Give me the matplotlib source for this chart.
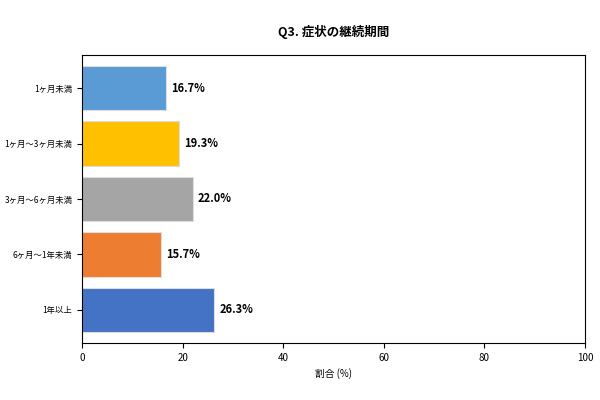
import matplotlib
matplotlib.use("Agg")
import matplotlib.pyplot as plt

plt.rcParams['font.family'] = ['Noto Sans CJK JP', 'DejaVu Sans']

categories = ["1ヶ月未満", "1ヶ月〜3ヶ月未満", "3ヶ月〜6ヶ月未満", "6ヶ月〜1年未満", "1年以上"]
values = [16.7, 19.3, 22.0, 15.7, 26.3]
colors = ["#5B9BD5", "#FFC000", "#A5A5A5", "#ED7D31", "#4472C4"]

fig = plt.figure(figsize=(6, 4), dpi=100)
ax = fig.add_axes([0.137, 0.1425, 0.838, 0.72])
y = list(range(len(categories)))[::-1]
ax.barh(y, values, height=0.8, color=colors, edgecolor="#dddddd", linewidth=0.8)
for yi, v in zip(y, values):
    ax.text(v + 1, yi, f"{v:.1f}%", va="center", ha="left", fontsize=8, fontweight="bold")
ax.set_yticks(y)
ax.set_yticklabels(categories, fontsize=6)
ax.set_xlim(0, 100)
ax.set_ylim(-0.6, 4.6)
ax.tick_params(axis='x', labelsize=7)
ax.set_xlabel("割合 (%)", fontsize=7)
ax.set_title("Q3. 症状の継続期間", fontsize=9, fontweight="bold", pad=14)
fig.savefig("out.png", dpi=100)
